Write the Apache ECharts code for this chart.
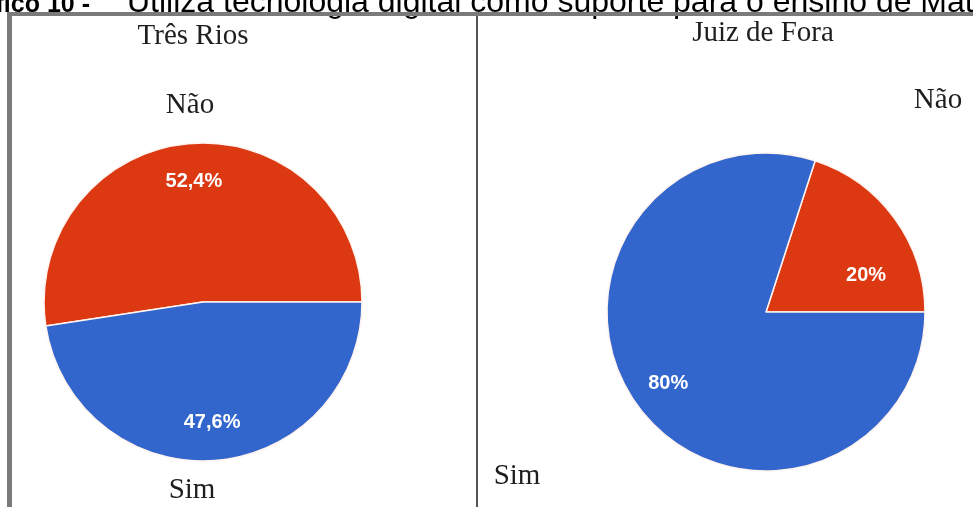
<!DOCTYPE html>
<html>
<head>
<meta charset="utf-8">
<script src="https://cdn.jsdelivr.net/npm/echarts@6/dist/echarts.min.js"></script>
<style>
  html, body { margin: 0; padding: 0; background: #ffffff; }
  #chart { width: 973px; height: 507px; }
</style>
</head>
<body>
<div id="chart"></div>
<script>
// Answers and the share of teachers in each city
const categories = ['Não', 'Sim'];
const cities = ['Três Rios', 'Juiz de Fora'];
const tresRiosValues = [52.4, 47.6];
const juizDeForaValues = [20, 80];
const headingBold = 'Gráfico 10 -';
const headingText = 'Utiliza tecnologia digital como suporte para o ensino de Matemática';

const sliceColors = ['#dc3912', '#3366cc'];
const serif = '"Liberation Serif", "Times New Roman", serif';
const sans = '"Liberation Sans", Arial, sans-serif';

// Pie geometry (pixels)
const pieCenters = [[203, 302], [766, 312]];
const pieRadius = 159;
// Percent labels sit at this fraction of the radius
const labelRadiusRatio = 0.76;
// The thin slice of the second pie keeps its label nearer the horizontal edge
const thinSliceLabel = { seriesIndex: 1, dataIndex: 0, angleDeg: 20, radiusRatio: 0.67 };

function fmtPercent(v) {
  return String(v).replace('.', ',') + '%';
}

function pieSeries(idx, values) {
  return {
    type: 'pie',
    center: pieCenters[idx],
    radius: pieRadius,
    startAngle: 0,
    clockwise: false,
    silent: true,
    animation: false,
    color: sliceColors,
    itemStyle: { borderColor: '#fff4f0', borderWidth: 1.5 },
    label: {
      show: true,
      position: 'inside',
      formatter: p => fmtPercent(p.value),
      color: '#ffffff',
      fontFamily: sans,
      fontWeight: 'bold',
      fontSize: 20
    },
    labelLine: { show: false },
    emphasis: { disabled: true },
    labelLayout: function (params) {
      const c = pieCenters[params.seriesIndex];
      const r = params.labelRect;
      const lx = r.x + r.width / 2;
      const ly = r.y + r.height / 2;
      if (params.seriesIndex === thinSliceLabel.seriesIndex &&
          params.dataIndex === thinSliceLabel.dataIndex) {
        const a = thinSliceLabel.angleDeg * Math.PI / 180;
        const d = thinSliceLabel.radiusRatio * pieRadius;
        return { dx: c[0] + d * Math.cos(a) - lx, dy: c[1] - d * Math.sin(a) - ly };
      }
      const vx = lx - c[0];
      const vy = ly - c[1];
      const len = Math.sqrt(vx * vx + vy * vy) || 1;
      const target = labelRadiusRatio * pieRadius;
      return { dx: vx / len * target - vx, dy: vy / len * target - vy };
    },
    data: categories.map((name, i) => ({ name: name, value: values[i] }))
  };
}

function serifText(text, x, baseline, size) {
  return {
    type: 'text',
    silent: true,
    style: {
      text: text,
      x: x,
      y: baseline - size * 0.27,
      font: size + 'px ' + serif,
      fill: '#1e1e1e',
      textAlign: 'center',
      textVerticalAlign: 'middle'
    }
  };
}

const chart = echarts.init(document.getElementById('chart'), null, { renderer: 'canvas' });

chart.setOption({
  backgroundColor: '#ffffff',
  animation: false,
  series: [pieSeries(0, tresRiosValues), pieSeries(1, juizDeForaValues)],
  graphic: [
    // heading, running off the top of the panel
    {
      type: 'text', silent: true, z: 1,
      style: {
        text: headingBold, x: 90, y: 13 - 25 * 0.3,
        font: 'bold 25px ' + sans, fill: '#000000',
        textAlign: 'right', textVerticalAlign: 'middle'
      }
    },
    {
      type: 'text', silent: true, z: 1,
      style: {
        text: headingText, x: 127, y: 13 - 32 * 0.3,
        font: '32px ' + sans, fill: '#000000',
        textAlign: 'left', textVerticalAlign: 'middle'
      }
    },
    // panel frame
    { type: 'rect', silent: true, z: 5, shape: { x: 7, y: 12, width: 966, height: 4 }, style: { fill: '#7a7a7a' } },
    { type: 'rect', silent: true, z: 5, shape: { x: 7, y: 12, width: 5, height: 495 }, style: { fill: '#7a7a7a' } },
    { type: 'line', silent: true, z: 5, shape: { x1: 477, y1: 16, x2: 477, y2: 507 }, style: { stroke: '#1a1a1a', lineWidth: 1.5 } },
    // city titles
    serifText(cities[0], 193, 44, 29),
    serifText(cities[1], 763, 41, 29),
    // answer names
    serifText(categories[0], 190, 113, 29),
    serifText(categories[1], 192, 498, 29),
    serifText(categories[0], 938, 108, 29),
    serifText(categories[1], 517, 484, 29)
  ]
});
</script>
</body>
</html>
